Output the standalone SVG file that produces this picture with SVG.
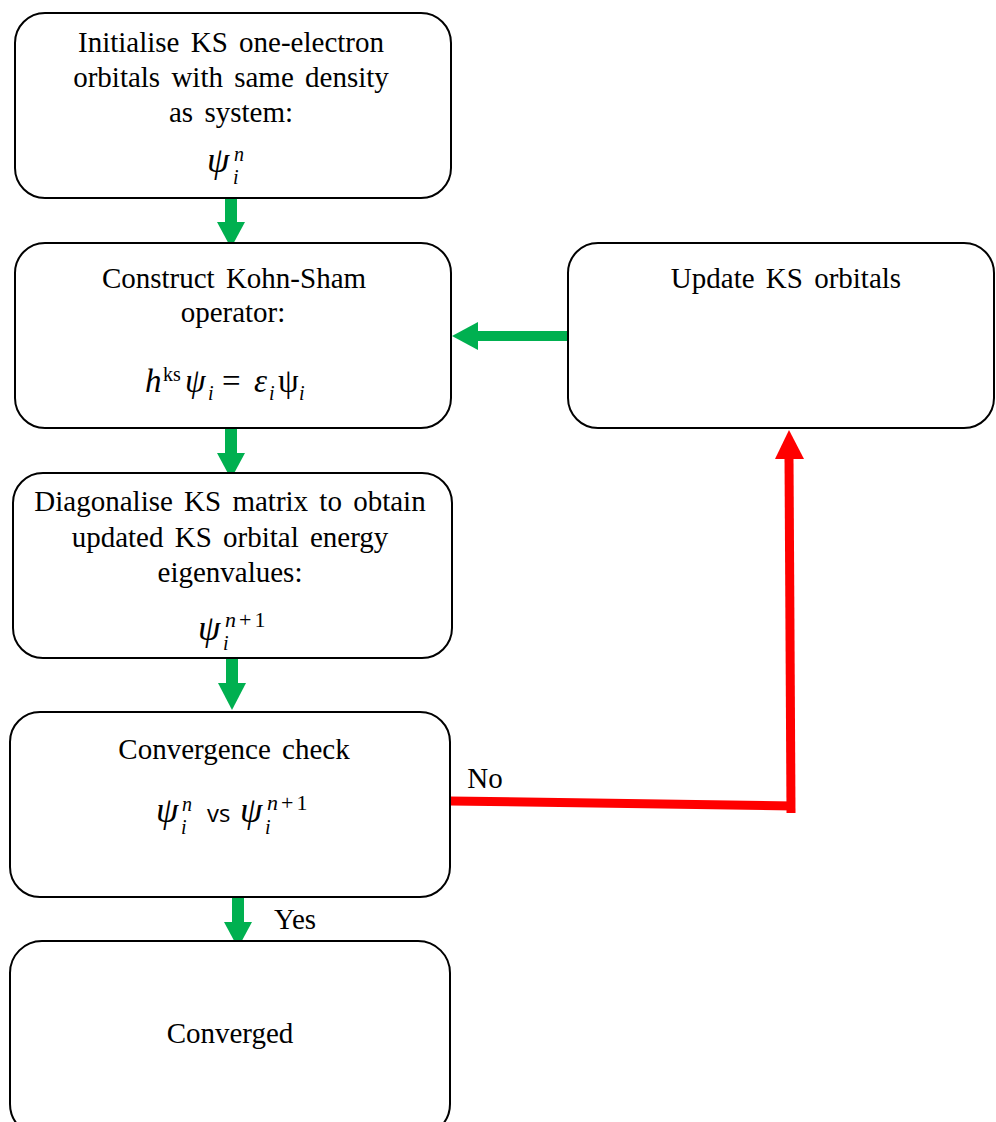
<svg xmlns="http://www.w3.org/2000/svg" width="996" height="1122" viewBox="0 0 996 1122">
<style>
.box{fill:#fff;stroke:#000;stroke-width:2}
.t{font-family:"Liberation Serif","Times New Roman",serif;font-size:29px;fill:#000;text-anchor:middle;word-spacing:4px}
.m{font-family:"Liberation Serif","Times New Roman",serif;font-style:italic;fill:#000;font-size:36px}
.f{font-size:33px}
.ss{font-size:20px}
.sp{font-size:22px;letter-spacing:3px}
.u{font-style:normal}
.vs{font-family:"Open Sans","Liberation Sans",sans-serif;font-size:24px;fill:#000}
.g{fill:#00B050}
.r{stroke:#FF0000;stroke-width:9;fill:none}
</style>
<rect width="996" height="1122" fill="#fff"/>
<g id="connectors">
  <g id="a1"><rect class="g" x="225" y="197" width="12" height="26"/><polygon class="g" points="217,222 245,222 231,248"/></g>
  <g id="a2"><rect class="g" x="225" y="427" width="12" height="27"/><polygon class="g" points="217,453 245,453 231,479"/></g>
  <g id="a3"><rect class="g" x="226" y="657" width="12" height="27"/><polygon class="g" points="218,683 246,683 232,710"/></g>
  <g id="a4"><rect class="g" x="232" y="896" width="12" height="27"/><polygon class="g" points="224,922 252,922 238,948"/></g>
  <g id="a5"><rect class="g" x="477" y="331" width="92" height="10"/><polygon class="g" points="478,322 478,350 452,336"/></g>
  <g id="a6">
    <line class="r" x1="450" y1="801" x2="794" y2="806"/>
    <line class="r" x1="791" y1="813" x2="789" y2="457"/>
    <polygon fill="#FF0000" points="775,459 804,459 789,430"/>
  </g>
  <text class="t" x="485" y="788">No</text>
  <text class="t" x="295" y="929">Yes</text>
</g>
<g id="n1">
  <rect class="box" x="15" y="13" width="436" height="185" rx="30"/>
  <text class="t" x="231" y="52">Initialise KS one-electron</text>
  <text class="t" x="231" y="87">orbitals with same density</text>
  <text class="t" x="231" y="122">as system:</text>
  <text class="m" y="172"><tspan x="207">ψ</tspan><tspan class="ss" x="233" y="184">i</tspan><tspan class="ss" x="234" y="161">n</tspan></text>
</g>
<g id="n2">
  <rect class="box" x="15" y="243" width="436" height="185" rx="30"/>
  <text class="t" x="234" y="288">Construct Kohn-Sham</text>
  <text class="t" x="233" y="322">operator:</text>
  <text class="m f" y="392"><tspan x="145">h</tspan><tspan class="ss u" x="163" y="381">ks</tspan><tspan x="185" y="392">ψ</tspan><tspan class="ss" x="208" y="400">i</tspan><tspan class="u" x="222" y="392">=</tspan><tspan x="254">ε</tspan><tspan class="ss" x="269" y="400">i</tspan><tspan class="u" x="278" y="392">ψ</tspan><tspan class="ss" x="299" y="400">i</tspan></text>
</g>
<g id="n3">
  <rect class="box" x="13" y="473" width="439" height="185" rx="30"/>
  <text class="t" x="230" y="511">Diagonalise KS matrix to obtain</text>
  <text class="t" x="230" y="547">updated KS orbital energy</text>
  <text class="t" x="230" y="582">eigenvalues:</text>
  <text class="m" y="640"><tspan x="198">ψ</tspan><tspan class="ss" x="223" y="650">i</tspan><tspan class="sp" x="225" y="627">n<tspan class="u">+1</tspan></tspan></text>
</g>
<g id="n4">
  <rect class="box" x="10" y="712" width="440" height="185" rx="30"/>
  <text class="t" x="234" y="759">Convergence check</text>
  <text class="m" y="822"><tspan x="156">ψ</tspan><tspan class="ss" x="181" y="834">i</tspan><tspan class="ss" x="182" y="811">n</tspan></text>
  <text class="vs" x="207" y="822">vs</text>
  <text class="m" y="822"><tspan x="240">ψ</tspan><tspan class="ss" x="265" y="834">i</tspan><tspan class="sp" x="267" y="810">n<tspan class="u">+1</tspan></tspan></text>
</g>
<g id="n5">
  <rect class="box" x="10" y="941" width="440" height="195" rx="32"/>
  <text class="t" x="230" y="1043">Converged</text>
</g>
<g id="n6">
  <rect class="box" x="568" y="243" width="426" height="185" rx="30"/>
  <text class="t" x="786" y="288">Update KS orbitals</text>
</g>
</svg>
